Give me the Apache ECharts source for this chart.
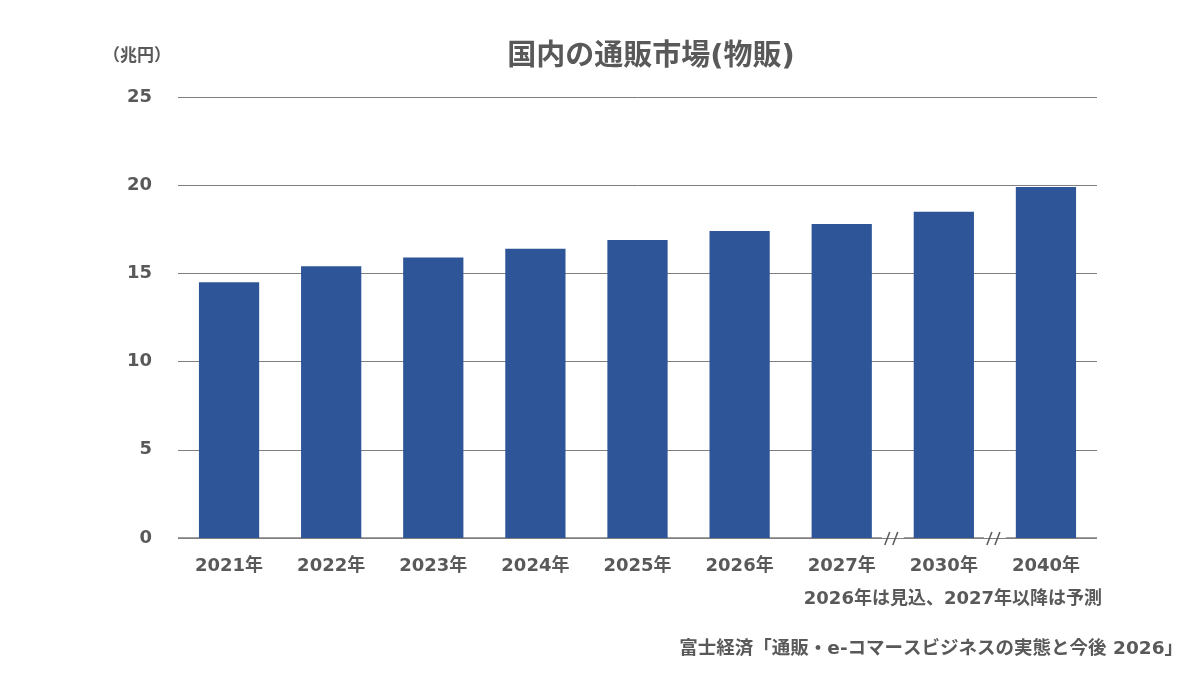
<!DOCTYPE html>
<html>
  <head>
    <meta charset="utf-8" />
    <title>国内の通販市場(物販)</title>
    <script src="https://cdn.jsdelivr.net/npm/echarts@6/dist/echarts.min.js"></script>
    <style>
      html,
      body,
      #main {
        margin: 0;
        padding: 0;
        width: 1200px;
        height: 675px;
        background: #fff;
      }
    </style>
  </head>
  <body>
    <div id="main"></div>
    <script>
      // data
      var years = ["2021年", "2022年", "2023年", "2024年", "2025年", "2026年", "2027年", "2030年", "2040年"];
      var market = [14.5, 15.4, 15.9, 16.4, 16.9, 17.4, 17.8, 18.5, 19.9];
      // category indexes after which the time axis jumps
      var breakAfter = [6, 7];

      var font = "'DejaVu Sans', 'Noto Sans CJK JP', sans-serif";
      var textColor = "#595959";
      var lineColor = "#7f7f7f";

      var chart = echarts.init(document.getElementById("main"));

      var option = {
        animation: false,
        textStyle: { fontFamily: font },
        title: [
          {
            text: "国内の通販市場(物販)",
            left: 646,
            top: 38,
            textAlign: "center",
            textStyle: { fontSize: 29, fontWeight: "bold", color: textColor, fontFamily: font }
          },
          {
            text: "（兆円）",
            left: 98,
            top: 43,
            textStyle: { fontSize: 17, fontWeight: "bold", color: textColor, fontFamily: font }
          },
          {
            text: "2026年は見込、2027年以降は予測",
            right: 93,
            top: 585,
            textStyle: { fontSize: 18, fontWeight: "bold", color: textColor, fontFamily: font }
          },
          {
            text: "富士経済「通販・e-コマースビジネスの実態と今後 2026」",
            right: 12,
            top: 635,
            textStyle: { fontSize: 18.5, fontWeight: "bold", color: textColor, fontFamily: font }
          }
        ],
        grid: { left: 178, right: 103, top: 97, bottom: 137 },
        xAxis: {
          type: "category",
          data: years,
          axisLine: { show: false },
          axisTick: { show: false },
          axisLabel: {
            margin: 19,
            fontSize: 18,
            fontWeight: "bold",
            color: textColor,
            fontFamily: font
          }
        },
        yAxis: {
          type: "value",
          min: 0,
          max: 25,
          interval: 5,
          axisLine: { show: false },
          axisTick: { show: false },
          axisLabel: {
            margin: 26,
            fontSize: 18,
            fontWeight: "bold",
            color: textColor,
            fontFamily: font
          },
          splitLine: { lineStyle: { color: lineColor, width: 1 } }
        },
        series: [
          {
            type: "bar",
            data: market,
            barWidth: "59%",
            itemStyle: { color: "#2e5597" }
          }
        ]
      };
      chart.setOption(option);

      // bottom axis line with break marks, placed through the axis scales
      function drawAxisLine() {
        var y0 = chart.convertToPixel({ yAxisIndex: 0 }, 0);
        var rect = chart.getModel().getComponent("grid").coordinateSystem.getRect();
        var gap = 11;
        var cuts = breakAfter.map(function (i) {
          var a = chart.convertToPixel({ xAxisIndex: 0 }, i);
          var b = chart.convertToPixel({ xAxisIndex: 0 }, i + 1);
          return (a + b) / 2;
        });
        var els = [];
        var start = rect.x;
        cuts.forEach(function (c) {
          els.push({
            type: "line",
            shape: { x1: start, y1: y0, x2: c - gap, y2: y0 },
            style: { stroke: lineColor, lineWidth: 1.5 }
          });
          [-6, 2].forEach(function (dx) {
            els.push({
              type: "line",
              shape: { x1: c + dx - 2, y1: y0 + 7, x2: c + dx + 3, y2: y0 - 6 },
              style: { stroke: textColor, lineWidth: 1.5 }
            });
          });
          start = c + gap;
        });
        els.push({
          type: "line",
          shape: { x1: start, y1: y0, x2: rect.x + rect.width, y2: y0 },
          style: { stroke: lineColor, lineWidth: 1.5 }
        });
        chart.setOption({ graphic: { elements: els } });
      }
      drawAxisLine();
    </script>
  </body>
</html>
